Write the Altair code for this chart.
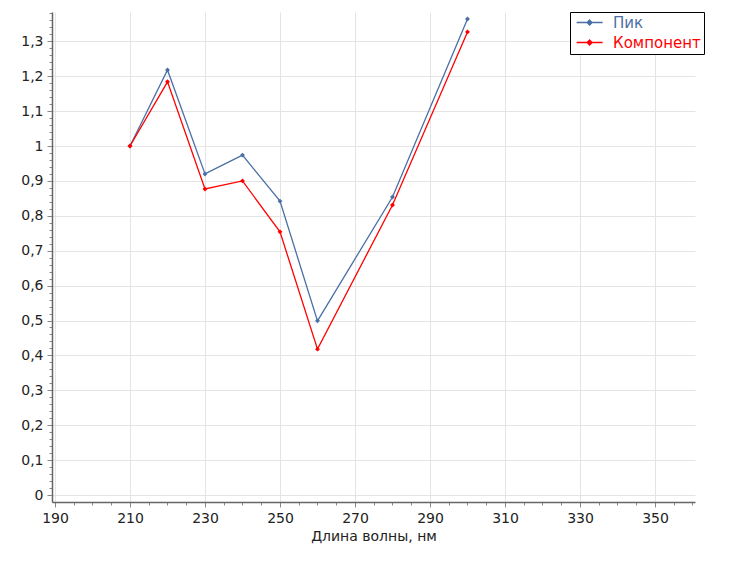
import altair as alt
import pandas as pd

wavelength = [210, 220, 230, 240, 250, 260, 280, 300]
peak = [1.0, 1.218, 0.920, 0.974, 0.842, 0.499, 0.854, 1.364]
component = [1.0, 1.184, 0.877, 0.900, 0.754, 0.418, 0.831, 1.327]
series_names = ["Пик", "Компонент"]
series_colors = ["#4a6fa5", "#ff0000"]

rows = []
for name, vals in zip(series_names, [peak, component]):
    for w, v in zip(wavelength, vals):
        rows.append({"wl": w, "val": v, "series": name})
df = pd.DataFrame(rows)

x_ticks = [190 + 5 * i for i in range(35)]
y_ticks = [round(0.02 * i, 2) for i in range(70)]

FONT = "DejaVu Sans"

x_axis = alt.Axis(
    values=x_ticks,
    labelExpr="datum.value % 20 == 10 ? datum.label : ''",
    labelOverlap=False,
    tickSize={"expr": "datum.value % 20 == 10 ? 5 : 3"},
    gridOpacity={"expr": "datum.value % 20 == 10 ? 1 : 0"},
    gridColor="#e4e4e4",
    tickColor="#888888",
    domainColor="#666666",
    domainWidth=1.5,
    labelFont=FONT,
    labelFontSize=14,
    labelColor="#222222",
    labelPadding=4,
    title="Длина волны, нм",
    titleFont=FONT,
    titleFontSize=14,
    titleFontWeight="normal",
    titleColor="#222222",
    titlePadding=4,
)

y_axis = alt.Axis(
    values=y_ticks,
    labelExpr="abs(round(datum.value*10) - datum.value*10) < 0.001 ? replace(format(datum.value, '.1~f'), '.', ',') : ''",
    labelOverlap=False,
    tickSize={"expr": "abs(round(datum.value*10) - datum.value*10) < 0.001 ? 5 : 3"},
    gridOpacity={"expr": "abs(round(datum.value*10) - datum.value*10) < 0.001 ? 1 : 0"},
    gridColor="#e4e4e4",
    tickColor="#888888",
    domainColor="#666666",
    domainWidth=1.5,
    labelFont=FONT,
    labelFontSize=14,
    labelColor="#222222",
    labelPadding=4,
    title=None,
)

legend = alt.Legend(
    title=None,
    orient="none",
    legendX=518,
    legendY=0,
    strokeColor="#000000",
    fillColor="#ffffff",
    padding=3,
    rowPadding=4,
    symbolType="M-0.6,0L3.4,0M1.4,-0.36L1.76,0L1.4,0.36L1.04,0Z",
    symbolSize=169,
    symbolStrokeWidth=1.5,
    labelFont=FONT,
    labelFontSize=15,
    labelColor={"expr": "datum.label == 'Пик' ? '#4a6fa5' : '#ff0000'"},
    labelOffset=25,
    offset=0,
)

chart = alt.Chart(df).mark_line(
    strokeWidth=1.3,
    point=alt.OverlayMarkDef(shape="diamond", size=24, filled=True),
).encode(
    x=alt.X("wl:Q", scale=alt.Scale(domain=[189.2, 360.67], nice=False, zero=False), axis=x_axis),
    y=alt.Y("val:Q", scale=alt.Scale(domain=[-0.02, 1.384], nice=False, zero=False), axis=y_axis),
    color=alt.Color("series:N", scale=alt.Scale(domain=series_names, range=series_colors),
                    sort=series_names, legend=legend),
).properties(
    width=643,
    height=490,
    autosize=alt.AutoSizeParams(type="none"),
    padding={"left": 44, "top": 4, "right": 31, "bottom": 52},
).configure_view(stroke=None)

chart.save("out.html", embed_options={"renderer": "svg", "actions": False})
